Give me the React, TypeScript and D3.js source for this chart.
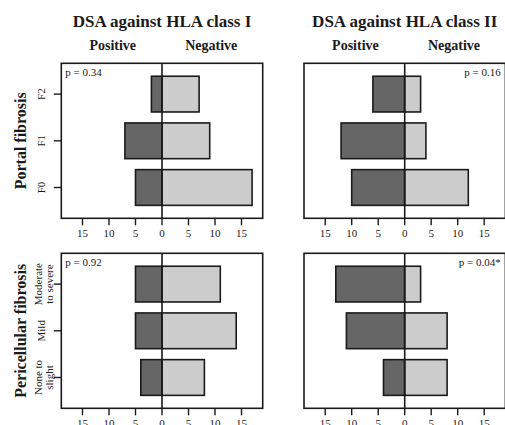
import React from 'react';
import * as d3 from 'd3';

// column / row headings
const colTitles = ['DSA against HLA class I', 'DSA against HLA class II'];
const sideLabels = ['Positive', 'Negative'];
const rowTitles = ['Portal fibrosis', 'Pericellular fibrosis'];

// categories, bottom to top
const portalGrades = ['F0', 'F1', 'F2'];
const periGrades = ['None to slight', 'Mild', 'Moderate to severe'];
const periGradeLines = [['None to', 'slight'], ['Mild'], ['Moderate', 'to severe']];

// counts (positive drawn to the left, negative to the right)
const portalPosI = [5, 7, 2];
const portalNegI = [17, 9, 7];
const portalPosII = [10, 12, 6];
const portalNegII = [12, 4, 3];
const periPosI = [4, 5, 5];
const periNegI = [8, 14, 11];
const periPosII = [4, 11, 13];
const periNegII = [8, 8, 3];

const pValues = [['p = 0.34', 'p = 0.16'], ['p = 0.92', 'p = 0.04*']];
const xTicks = [-15, -10, -5, 0, 5, 10, 15];

const font = '"Liberation Serif", "Times New Roman", serif';
const ink = '#1a1a1a';

const panelW = 201.4, panelH = 155;
const colX = [61.3, 304];
const rowY = [63.3, 253.3];

const x = d3.scaleLinear().domain([-19, 19]).range([0, panelW]);

function Panel({ col, row, grades, pos, neg, p, showY, lines }) {
    const y = d3.scaleBand()
        .domain(grades.slice().reverse())
        .range([0, panelH])
        .paddingInner(0.235)
        .paddingOuter(0.277);
    const x0 = colX[col], y0 = rowY[row];
    return (
        <g transform={'translate(' + x0 + ',' + y0 + ')'}>
            {grades.map((g, i) => (
                <g key={g}>
                    <rect x={x(-pos[i])} y={y(g)} width={x(0) - x(-pos[i])} height={y.bandwidth()}
                        fill='#666666' stroke={ink} strokeWidth={1.6} />
                    <rect x={x(0)} y={y(g)} width={x(neg[i]) - x(0)} height={y.bandwidth()}
                        fill='#cccccc' stroke={ink} strokeWidth={1.6} />
                </g>
            ))}
            <rect x={0} y={0} width={panelW} height={panelH} fill='none' stroke={ink} strokeWidth={1.6} />
            <line x1={x(0)} x2={x(0)} y1={0} y2={panelH} stroke={ink} strokeWidth={1.6} />
            {/* x axis */}
            {xTicks.map(t => (
                <g key={t} transform={'translate(' + x(t) + ',' + panelH + ')'}>
                    <line y1={0} y2={7} stroke={ink} strokeWidth={1.4} />
                    <text y={18.4} textAnchor='middle' fontSize={11} fill={ink} fontFamily={font}>
                        {Math.abs(t)}
                    </text>
                </g>
            ))}
            {/* y axis */}
            {showY && grades.map((g, i) => {
                const cy = y(g) + y.bandwidth() / 2;
                const ls = lines ? lines[i] : [g];
                return (
                    <g key={g}>
                        <line x1={-7.5} x2={0} y1={cy} y2={cy} stroke={ink} strokeWidth={1.4} />
                        {ls.map((s, k) => {
                            const cx = ls.length === 1 ? -20 : -23.5 + k * 11.5;
                            return (
                                <text key={k} transform={'translate(' + cx + ',' + cy + ') rotate(-90)'}
                                    textAnchor='middle' dominantBaseline='central' fontSize={11}
                                    fill={ink} fontFamily={font}>{s}</text>
                            );
                        })}
                    </g>
                );
            })}
            {col === 0
                ? <text x={4} y={13} fontSize={11} fill={ink} fontFamily={font}>{p}</text>
                : <text x={196.7} y={13} textAnchor='end' fontSize={11} fill={ink} fontFamily={font}>{p}</text>}
        </g>
    );
}

export default function App() {
    const panels = [
        { col: 0, row: 0, grades: portalGrades, pos: portalPosI, neg: portalNegI },
        { col: 1, row: 0, grades: portalGrades, pos: portalPosII, neg: portalNegII },
        { col: 0, row: 1, grades: periGrades, pos: periPosI, neg: periNegI, lines: periGradeLines },
        { col: 1, row: 1, grades: periGrades, pos: periPosII, neg: periNegII, lines: periGradeLines },
    ];
    return (
        <svg width={505} height={425} style={{ position: 'absolute', left: 0, top: 0, background: '#fff' }}>
            {colTitles.map((t, c) => (
                <g key={t}>
                    <text x={colX[c] + x(0)} y={26.5} textAnchor='middle' fontSize={17} fontWeight='bold'
                        fill={ink} fontFamily={font}>{t}</text>
                    {sideLabels.map((s, k) => (
                        <text key={s} x={colX[c] + x(k === 0 ? -9.3 : 9.3)} y={50} textAnchor='middle'
                            fontSize={14} fontWeight='bold' fill={ink} fontFamily={font}>{s}</text>
                    ))}
                </g>
            ))}
            {rowTitles.map((t, r) => (
                <text key={t} transform={'translate(20,' + (rowY[r] + panelH / 2) + ') rotate(-90)'}
                    textAnchor='middle' dominantBaseline='central' fontSize={16} fontWeight='bold'
                    fill={ink} fontFamily={font}>{t}</text>
            ))}
            {panels.map((pn, i) => (
                <Panel key={i} {...pn} p={pValues[pn.row][pn.col]} showY={pn.col === 0} />
            ))}
        </svg>
    );
}
